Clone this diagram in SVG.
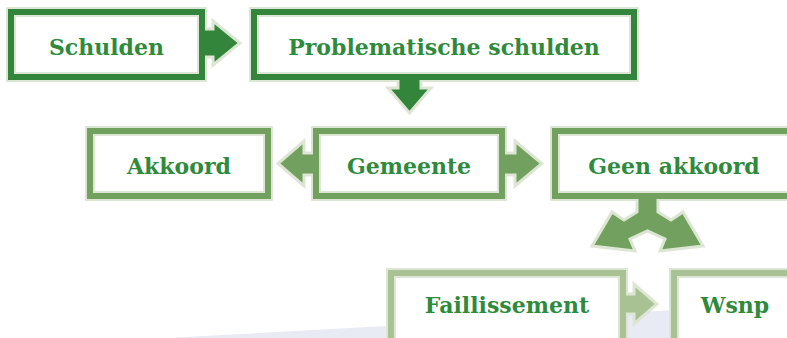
<svg xmlns="http://www.w3.org/2000/svg" width="787" height="338" viewBox="0 0 787 338">
<style>
  .lt{fill:#dde6d4}
  .wh{fill:#ffffff}
  .d1{fill:#32853a}
  .d2{fill:#72a05e}
  .d3{fill:#a9c294}
  .t{font-family:"DejaVu Serif","Liberation Serif",serif;font-weight:bold;font-size:22px;fill:#2f8a3b;text-anchor:middle}
  .c1{fill:#32853a;stroke:#dde6d4;stroke-width:3;stroke-linejoin:miter}
  .c2{fill:#72a05e;stroke:#dde6d4;stroke-width:3;stroke-linejoin:miter}
  .c3{fill:#a9c294;stroke:#dde6d4;stroke-width:3;stroke-linejoin:miter}
</style>
<polygon points="168,338 787,304 787,338" fill="#e8eaf4"/>

<g id="node-schulden">
  <rect class="lt" x="6" y="7" width="201" height="75"/>
  <rect class="d1" x="8" y="9" width="197" height="71"/>
  <rect class="lt" x="14" y="15" width="185" height="59"/>
  <rect class="wh" x="16" y="17" width="181" height="55"/>
  <text class="t" x="106.5" y="55">Schulden</text>
</g>
<g id="node-problematische">
  <rect class="lt" x="249" y="7" width="390" height="75"/>
  <rect class="d1" x="251" y="9" width="386" height="71"/>
  <rect class="lt" x="257" y="15" width="374" height="59"/>
  <rect class="wh" x="259" y="17" width="370" height="55"/>
  <text class="t" x="444" y="55">Problematische schulden</text>
</g>
<g id="node-akkoord">
  <rect class="lt" x="85" y="126" width="188" height="75"/>
  <rect class="d2" x="87" y="128" width="184" height="71"/>
  <rect class="lt" x="93" y="134" width="172" height="59"/>
  <rect class="wh" x="95" y="136" width="168" height="55"/>
  <text class="t" x="179" y="174">Akkoord</text>
</g>
<g id="node-gemeente">
  <rect class="lt" x="311" y="126" width="196" height="75"/>
  <rect class="d2" x="313" y="128" width="192" height="71"/>
  <rect class="lt" x="319" y="134" width="180" height="59"/>
  <rect class="wh" x="321" y="136" width="176" height="55"/>
  <text class="t" x="409" y="174">Gemeente</text>
</g>
<g id="node-geen-akkoord">
  <rect class="lt" x="550" y="126" width="252" height="75"/>
  <rect class="d2" x="552" y="128" width="248" height="71"/>
  <rect class="lt" x="558" y="134" width="236" height="59"/>
  <rect class="wh" x="560" y="136" width="232" height="55"/>
  <text class="t" x="674" y="174">Geen akkoord</text>
</g>
<g id="node-faillissement">
  <rect class="lt" x="386" y="268" width="242" height="80"/>
  <rect class="d3" x="388" y="270" width="238" height="78"/>
  <rect class="lt" x="394" y="276" width="226" height="70"/>
  <rect class="wh" x="396" y="278" width="222" height="70"/>
  <text class="t" x="507" y="313">Faillissement</text>
</g>
<g id="node-wsnp">
  <rect class="lt" x="669" y="268" width="140" height="80"/>
  <rect class="d3" x="671" y="270" width="136" height="78"/>
  <rect class="lt" x="677" y="276" width="124" height="70"/>
  <rect class="wh" x="679" y="278" width="120" height="70"/>
  <text class="t" x="735" y="313">Wsnp</text>
</g>

<g id="connectors">
  <path class="c1" d="M205,29 H213 V21 L240,43 L213,65 V57 H205"/>
  <path class="c1" d="M398,80 V88 H388 L409.5,113 L431,88 H421 V80"/>
  <path class="c2" d="M313,153 H304 V141 L278,163.5 L304,186 V175 H313"/>
  <path class="c2" d="M505,153 H515 V141 L542,163.5 L515,186 V175 H505"/>
  <path class="c2" d="M637,199 V212 L624,220 L612,212 L592,246 L635,251 L630,239 L647.5,231 L665,239 L660,251 L703,246 L683,212 L671,220 L658,212 V199"/>
  <path class="c3" d="M626,294 H634 V284 L657,304 L634,324 V314 H626"/>
</g>
</svg>
